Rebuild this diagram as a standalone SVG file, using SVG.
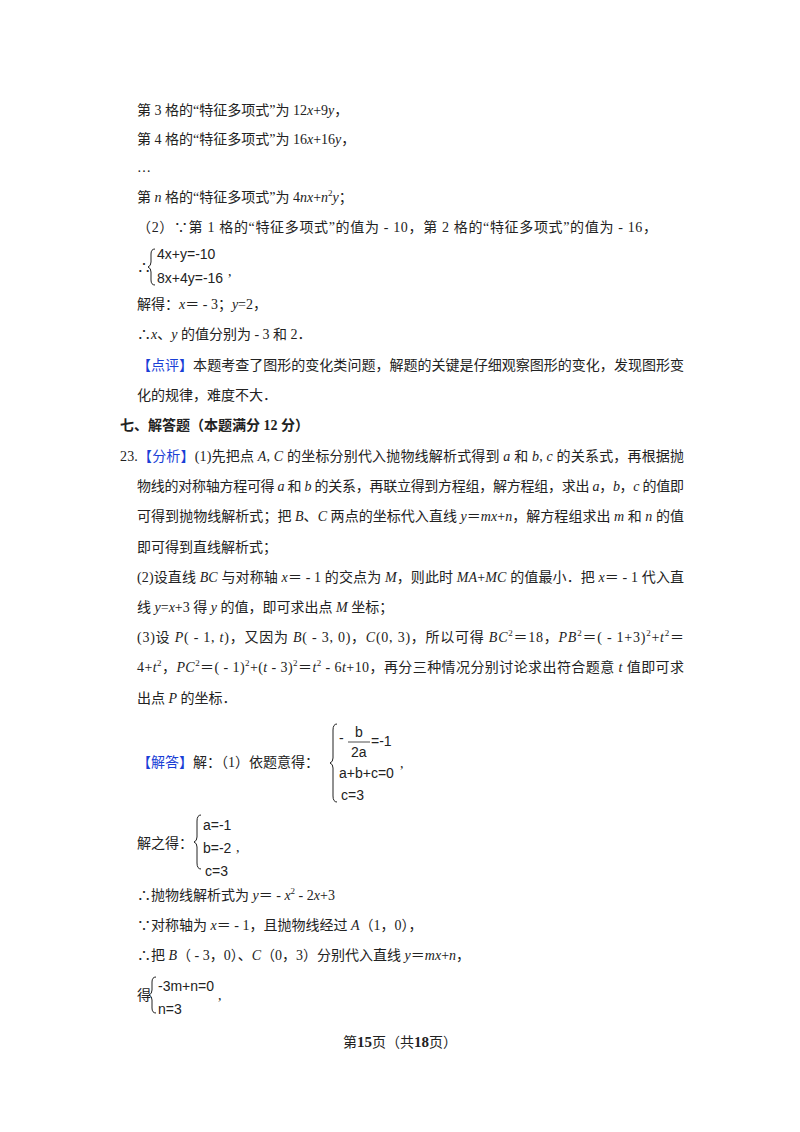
<svg xmlns="http://www.w3.org/2000/svg" width="800" height="1132" viewBox="0 0 800 1132">
<style>
text{font-family:"Liberation Serif","Noto Sans CJK SC",serif;font-size:14px;fill:#222}
.i{font-style:italic}
.b{fill:#1a3fd6}
.m{font-family:"Liberation Sans","Noto Sans CJK SC",sans-serif;font-size:14px}
.h{font-weight:bold}
.br{fill:none;stroke:#222;stroke-width:1}
</style>
<rect width="800" height="1132" fill="#fff"/>
<g id="text">
<text x="137" y="115">第 3 格的“特征多项式”为 12<tspan class="i">x</tspan>+9<tspan class="i">y</tspan>，</text>
<text x="137" y="144">第 4 格的“特征多项式”为 16<tspan class="i">x</tspan>+16<tspan class="i">y</tspan>，</text>
<text x="137" y="172">…</text>
<text x="137" y="202">第 <tspan class="i">n</tspan> 格的“特征多项式”为 4<tspan class="i">nx</tspan>+<tspan class="i">n</tspan><tspan dy="-6" font-size="9">2</tspan><tspan dy="6" class="i">y</tspan>；</text>
<text x="137" y="232" textLength="520">（2）∵第 1 格的“特征多项式”的值为 - 10，第 2 格的“特征多项式”的值为 - 16，</text>
<text x="137" y="272">∴</text>
<path class="br" d="M155,249 q-4,0 -4,5 v8 q0,4 -3,5 q3,1 3,5 v8 q0,5 4,5"/>
<text class="m" x="157" y="259">4x+y=-10</text>
<text class="m" x="157" y="283">8x+4y=-16</text>
<text x="228" y="276">,</text>
<text x="137" y="309">解得：<tspan class="i">x</tspan>＝ - 3；<tspan class="i">y</tspan>=2，</text>
<text x="137" y="339">∴<tspan class="i">x</tspan>、<tspan class="i">y</tspan> 的值分别为 - 3 和 2．</text>
<text x="137" y="370" textLength="547"><tspan class="b">【点评】</tspan>本题考查了图形的变化类问题，解题的关键是仔细观察图形的变化，发现图形变</text>
<text x="137" y="400">化的规律，难度不大．</text>
<text x="120" y="430" class="h">七、解答题（本题满分 12 分）</text>
<text x="120" y="461" textLength="564">23.<tspan class="b">【分析】</tspan>(1)先把点 <tspan class="i">A</tspan>, <tspan class="i">C</tspan> 的坐标分别代入抛物线解析式得到 <tspan class="i">a</tspan> 和 <tspan class="i">b</tspan>, <tspan class="i">c</tspan> 的关系式，再根据抛</text>
<text x="137" y="491" textLength="547">物线的对称轴方程可得 <tspan class="i">a</tspan> 和 <tspan class="i">b</tspan> 的关系，再联立得到方程组，解方程组，求出 <tspan class="i">a</tspan>，<tspan class="i">b</tspan>，<tspan class="i">c</tspan> 的值即</text>
<text x="137" y="521" textLength="547">可得到抛物线解析式；把 <tspan class="i">B</tspan>、<tspan class="i">C</tspan> 两点的坐标代入直线 <tspan class="i">y</tspan>＝<tspan class="i">mx</tspan>+<tspan class="i">n</tspan>，解方程组求出 <tspan class="i">m</tspan> 和 <tspan class="i">n</tspan> 的值</text>
<text x="137" y="552">即可得到直线解析式；</text>
<text x="137" y="582" textLength="547">(2)设直线 <tspan class="i">BC</tspan> 与对称轴 <tspan class="i">x</tspan>＝ - 1 的交点为 <tspan class="i">M</tspan>，则此时 <tspan class="i">MA</tspan>+<tspan class="i">MC</tspan> 的值最小．把 <tspan class="i">x</tspan>＝ - 1 代入直</text>
<text x="137" y="612">线 <tspan class="i">y</tspan>=<tspan class="i">x</tspan>+3 得 <tspan class="i">y</tspan> 的值，即可求出点 <tspan class="i">M</tspan> 坐标；</text>
<text x="137" y="642" textLength="547">(3)设 <tspan class="i">P</tspan>( - 1, <tspan class="i">t</tspan>)，又因为 <tspan class="i">B</tspan>( - 3, 0)，<tspan class="i">C</tspan>(0, 3)，所以可得 <tspan class="i">BC</tspan><tspan dy="-6" font-size="9">2</tspan><tspan dy="6">＝18，</tspan><tspan class="i">PB</tspan><tspan dy="-6" font-size="9">2</tspan><tspan dy="6">＝( - 1+3)</tspan><tspan dy="-6" font-size="9">2</tspan><tspan dy="6">+</tspan><tspan class="i">t</tspan><tspan dy="-6" font-size="9">2</tspan><tspan dy="6">＝</tspan></text>
<text x="137" y="672" textLength="547">4+<tspan class="i">t</tspan><tspan dy="-6" font-size="9">2</tspan><tspan dy="6">，</tspan><tspan class="i">PC</tspan><tspan dy="-6" font-size="9">2</tspan><tspan dy="6">＝( - 1)</tspan><tspan dy="-6" font-size="9">2</tspan><tspan dy="6">+(</tspan><tspan class="i">t</tspan> - 3)<tspan dy="-6" font-size="9">2</tspan><tspan dy="6">＝</tspan><tspan class="i">t</tspan><tspan dy="-6" font-size="9">2</tspan><tspan dy="6"> - 6</tspan><tspan class="i">t</tspan>+10，再分三种情况分别讨论求出符合题意 <tspan class="i">t</tspan> 值即可求</text>
<text x="137" y="703">出点 <tspan class="i">P</tspan> 的坐标．</text>
<text x="137" y="767"><tspan class="b">【解答】</tspan>解：（1）依题意得：</text>
<path class="br" d="M337,724 q-4,0 -4,6 v28 q0,4 -3,5 q3,1 3,5 v28 q0,6 4,6"/>
<text class="m" x="339" y="743">-</text>
<text class="m" x="355" y="737">b</text>
<line x1="348" y1="742" x2="370" y2="742" stroke="#222" stroke-width="0.8"/>
<text class="m" x="351" y="757">2a</text>
<text class="m" x="371" y="746">=-1</text>
<text class="m" x="339" y="778">a+b+c=0</text>
<text x="400" y="768">,</text>
<text class="m" x="341" y="800">c=3</text>
<text x="137" y="848">解之得：</text>
<path class="br" d="M201,815 q-4,0 -4,6 v16 q0,4 -3,5 q3,1 3,5 v16 q0,6 4,6"/>
<text class="m" x="203" y="830">a=-1</text>
<text class="m" x="203" y="853">b=-2</text>
<text x="236" y="852">,</text>
<text class="m" x="205" y="876">c=3</text>
<text x="137" y="900">∴抛物线解析式为 <tspan class="i">y</tspan>＝ - <tspan class="i">x</tspan><tspan dy="-6" font-size="9">2</tspan><tspan dy="6"> - 2</tspan><tspan class="i">x</tspan>+3</text>
<text x="137" y="930">∵对称轴为 <tspan class="i">x</tspan>＝ - 1，且抛物线经过 <tspan class="i">A</tspan>（1，0），</text>
<text x="137" y="960">∴把 <tspan class="i">B</tspan>（ - 3，0）、<tspan class="i">C</tspan>（0，3）分别代入直线 <tspan class="i">y</tspan>＝<tspan class="i">mx</tspan>+<tspan class="i">n</tspan>，</text>
<text x="137" y="1000">得</text>
<path class="br" d="M156,977 q-4,0 -4,5 v8 q0,4 -3,5 q3,1 3,5 v8 q0,5 4,5"/>
<text class="m" x="158" y="991">-3m+n=0</text>
<text x="218" y="1000">,</text>
<text class="m" x="158" y="1014">n=3</text>
<text x="400" y="1047" text-anchor="middle" font-size="13">第<tspan class="h" font-size="15">15</tspan>页（共<tspan class="h" font-size="15">18</tspan>页）</text>
</g>
</svg>
